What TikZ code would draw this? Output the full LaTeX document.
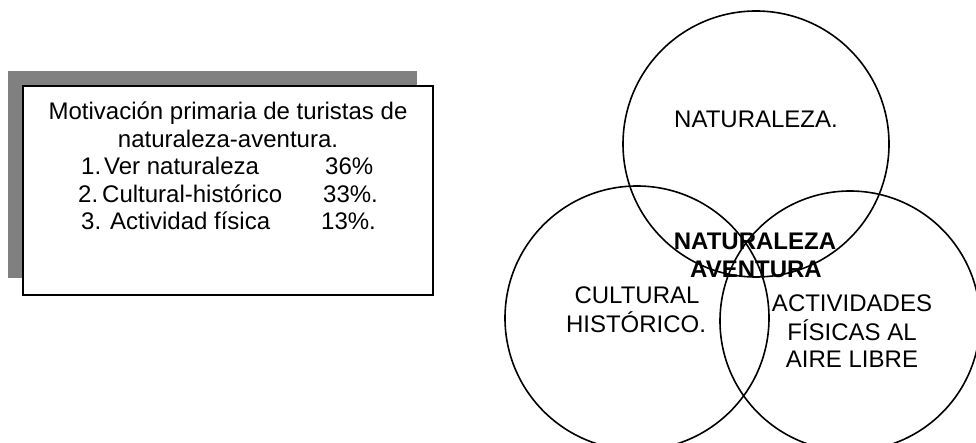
\documentclass[tikz,border=0pt]{standalone}
\usepackage{fontspec}
\setmainfont{Liberation Sans}

\tikzset{
  txt/.style={font=\fontsize{24}{27.6}\selectfont, inner sep=0pt, anchor=base},
  txtl/.style={txt, anchor=base west},
  txtb/.style={txt, font=\fontsize{24}{27.6}\selectfont\bfseries},
  vennring/.style={draw=black, line width=1.6pt}
}

\begin{document}
\begin{tikzpicture}[x=1pt,y=-1pt]
\useasboundingbox (0,0) rectangle (976,443);

% box with shadow
\fill[black!50] (8,71) rectangle (417,278);
\filldraw[draw=black, fill=white, line width=1.8pt] (23,86) rectangle (433,295);

\node[txt] (title1) at (228,120) {Motivación primaria de turistas de};
\node[txt] (title2) at (228,148) {naturaleza-aventura.};
\node[txtl] (item1) at (81,175) {1.\hspace{3pt}Ver naturaleza};
\node[txtl] (pct1) at (325,175) {36\%};
\node[txtl] (item2) at (78,203) {2.\hspace{4pt}Cultural-histórico};
\node[txtl] (pct2) at (323,203) {33\%.};
\node[txtl] (item3) at (81,230) {3. Actividad física};
\node[txtl] (pct3) at (321,230) {13\%.};

% venn
\draw[vennring] (756,144) circle[radius=133];
\draw[vennring] (637,318) circle[radius=132];
\draw[vennring] (850,321) circle[radius=130];

\node[txt] (nat) at (756,128) {NATURALEZA.};
\node[txtb] (mid1) at (755,250) {NATURALEZA};
\node[txtb] (mid2) at (756,278) {AVENTURA};
\node[txt] (cul1) at (637,303) {CULTURAL};
\node[txt] (cul2) at (636,332) {HISTÓRICO.};
\node[txt] (act1) at (852,312) {ACTIVIDADES};
\node[txt] (act2) at (852,340) {FÍSICAS AL};
\node[txt] (act3) at (852,367) {AIRE LIBRE};
\end{tikzpicture}
\end{document}
